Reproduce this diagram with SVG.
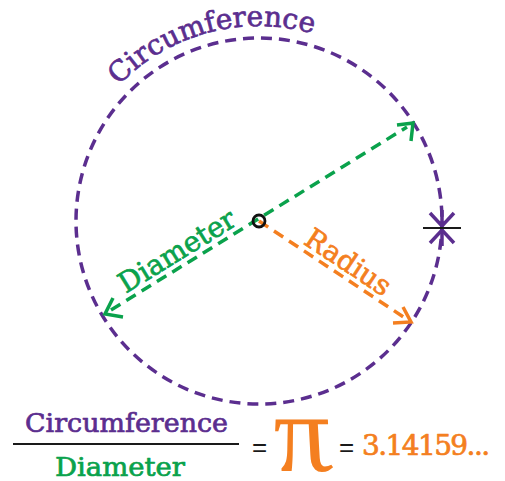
<svg xmlns="http://www.w3.org/2000/svg" width="505" height="481" viewBox="0 0 505 481">
<style>
.serif{font-family:"DejaVu Serif","Liberation Serif",serif;stroke-width:0.7;stroke-linejoin:round;}
.sans{font-family:"Liberation Sans","DejaVu Sans",sans-serif;}
.purple{fill:#5b2e8f;stroke:#5b2e8f;}
.green{fill:#0aa24c;stroke:#0aa24c;}
.orange{fill:#f47f20;stroke:#f47f20;}
.dash{fill:none;stroke-width:3.5;stroke-dasharray:11 7;}
.head{fill:none;stroke-width:3.5;stroke-linecap:butt;stroke-linejoin:miter;}
</style>
<defs>
<path id="arcText" d="M118.7,85.5 A195,195 0 0 1 312.7,33.6"/>
</defs>
<g id="circle">
<circle cx="259" cy="221" r="183" class="dash" stroke="#5b2e8f"/>
<text class="serif purple" font-size="28"><textPath href="#arcText" textLength="211" lengthAdjust="spacingAndGlyphs">Circumference</textPath></text>
</g>
<g id="connectors">
<line x1="111" y1="310" x2="407" y2="127" class="dash" stroke="#0aa24c"/>
<path d="M113,298 L105,314 L123,317" class="head" stroke="#0aa24c"/>
<path d="M397,125 L413,123 L411,141" class="head" stroke="#0aa24c"/>
<line x1="259" y1="221" x2="405" y2="318" class="dash" stroke="#f47f20"/>
<path d="M393,323 L411,322 L403,307" class="head" stroke="#f47f20"/>
<line x1="442" y1="210" x2="442" y2="226" stroke="#5b2e8f" stroke-width="3.5"/>
<path d="M430,213 L442,226 L454,213" class="head" stroke="#5b2e8f"/>
<line x1="442" y1="230" x2="442" y2="246" stroke="#5b2e8f" stroke-width="3.5"/>
<path d="M430,243 L442,230 L454,243" class="head" stroke="#5b2e8f"/>
<line x1="423" y1="228" x2="461" y2="228" stroke="#1a1a1a" stroke-width="2"/>
</g>
<g id="center">
<circle cx="259" cy="221" r="6" fill="none" stroke="#111" stroke-width="2.8"/>
</g>
<g id="diameter-label">
<text class="serif green" font-size="28" text-anchor="middle" transform="translate(182,259) rotate(-31.7)" textLength="132" lengthAdjust="spacingAndGlyphs">Diameter</text>
</g>
<g id="radius-label">
<text class="serif orange" font-size="28" text-anchor="middle" transform="translate(343,270) rotate(33.6)" textLength="97" lengthAdjust="spacingAndGlyphs">Radius</text>
</g>
<g id="formula">
<text x="25" y="432" class="serif purple" font-size="26" textLength="203" lengthAdjust="spacingAndGlyphs">Circumference</text>
<line x1="13" y1="444" x2="239" y2="444" stroke="#1a1a1a" stroke-width="2"/>
<text x="55" y="476" class="serif green" font-size="26" textLength="130" lengthAdjust="spacingAndGlyphs">Diameter</text>
<text x="252" y="456" class="sans" font-size="26" fill="#1a1a1a">=</text>
<text x="0" y="0" transform="translate(309,471) skewX(13)" font-family="Liberation Serif, serif" font-style="italic" font-size="112" fill="#f47f20" text-anchor="middle">π</text>
<text x="339" y="456" class="sans" font-size="26" fill="#1a1a1a">=</text>
<text x="362" y="455" class="serif orange" font-size="28" letter-spacing="-1.6">3.14159...</text>
</g>
</svg>
